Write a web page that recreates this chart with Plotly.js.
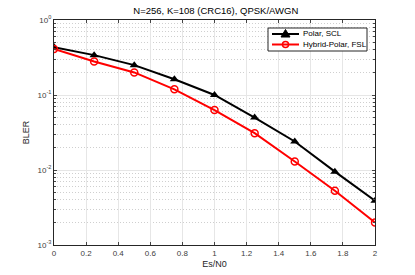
<!DOCTYPE html>
<html><head><meta charset="utf-8">
<script src="https://cdn.plot.ly/plotly-3.0.1.min.js"></script>
<style>html,body{margin:0;padding:0;background:#fff}#c{width:415px;height:275px}</style>
</head><body><div id="c"></div>
<script>
const esn0 = [0, 0.25, 0.5, 0.75, 1.0, 1.25, 1.5, 1.75, 2.0];
const blerPolarSCL = [0.435, 0.34, 0.25, 0.162, 0.1, 0.050, 0.024, 0.0095, 0.0039];
const blerHybridFSL = [0.41, 0.28, 0.20, 0.119, 0.063, 0.031, 0.013, 0.0053, 0.0020];
const seriesNames = ['Polar, SCL', 'Hybrid-Polar, FSL'];
const xTicks = [0, 0.2, 0.4, 0.6, 0.8, 1, 1.2, 1.4, 1.6, 1.8, 2];
const yTicks = [0.001, 0.01, 0.1, 1];
const yTickText = ['10<sup>-3</sup>', '10<sup>-2</sup>', '10<sup>-1</sup>', '10<sup>0</sup>'];

const minorY = [];
[0.001, 0.01, 0.1].forEach(d => { for (let k = 2; k <= 9; k++) minorY.push(d * k); });

const W = 415, H = 275, M = {l: 54, r: 40, t: 20, b: 30};
const PW = W - M.l - M.r, PH = H - M.t - M.b;
const px = v => (v - M.l) / PW;
const py = v => (H - M.b - v) / PH;

const font = {family: 'Liberation Sans, Arial, sans-serif', color: '#262626'};
const traces = [
  {x: esn0, y: blerPolarSCL, name: seriesNames[0], mode: 'lines+markers',
   line: {color: '#000', width: 2}, marker: {symbol: 'triangle-up', size: 8, color: '#000'}},
  {x: esn0, y: blerHybridFSL, name: seriesNames[1], mode: 'lines+markers',
   line: {color: '#ff0000', width: 2}, marker: {symbol: 'circle-open', size: 7, color: '#ff0000', line: {width: 1.5}}}
];

const lg = {x0: 268, x1: 367, y0: 28, y1: 51, rows: [34, 44.5], l0: 272, l1: 299, mx: 285.5, tx: 301};
const shapes = [
  {type: 'rect', xref: 'paper', yref: 'paper', x0: px(lg.x0), x1: px(lg.x1), y0: py(lg.y1), y1: py(lg.y0),
   fillcolor: '#fff', line: {color: '#262626', width: 1}, layer: 'above'},
  {type: 'line', xref: 'paper', yref: 'paper', x0: px(lg.l0), x1: px(lg.l1), y0: py(lg.rows[0]), y1: py(lg.rows[0]),
   line: {color: '#000', width: 2}, layer: 'above'},
  {type: 'path', xref: 'paper', yref: 'paper', layer: 'above', fillcolor: '#000', line: {color: '#000', width: 1},
   path: `M${px(lg.mx)},${py(lg.rows[0]-4.5)} L${px(lg.mx+4.5)},${py(lg.rows[0]+3)} L${px(lg.mx-4.5)},${py(lg.rows[0]+3)} Z`},
  {type: 'line', xref: 'paper', yref: 'paper', x0: px(lg.l0), x1: px(lg.l1), y0: py(lg.rows[1]), y1: py(lg.rows[1]),
   line: {color: '#ff0000', width: 2}, layer: 'above'},
  {type: 'circle', xref: 'paper', yref: 'paper', layer: 'above', fillcolor: 'rgba(0,0,0,0)', line: {color: '#ff0000', width: 1.5},
   x0: px(lg.mx-3), x1: px(lg.mx+3), y0: py(lg.rows[1]+3), y1: py(lg.rows[1]-3)}
];
const annotations = seriesNames.map((n, i) => ({
  text: n, xref: 'paper', yref: 'paper', x: px(lg.tx), y: py(lg.rows[i]), xanchor: 'left', yanchor: 'middle',
  showarrow: false, font: {family: font.family, size: 8, color: '#000'}
}));

const layout = {
  width: W, height: H, margin: M,
  paper_bgcolor: '#fff', plot_bgcolor: '#fff',
  font: Object.assign({size: 8}, font),
  title: {text: 'N=256, K=108 (CRC16), QPSK/AWGN', x: 0.52, xanchor: 'center', y: 0.975, yanchor: 'top',
          font: Object.assign({}, font, {size: 9.5, color: '#000'})},
  xaxis: {range: [0, 2], tickvals: xTicks, ticktext: xTicks.map(String),
          showline: true, linecolor: '#262626', linewidth: 1, mirror: 'ticks', ticks: 'inside', ticklen: 3,
          showgrid: true, gridcolor: '#e6e6e6', gridwidth: 1, zeroline: false,
          tickfont: {size: 8, color: '#404040'},
          title: {text: 'Es/N0', font: {size: 9, color: '#262626'}, standoff: 4}},
  yaxis: {type: 'log', range: [-3, 0], tickvals: yTicks, ticktext: yTickText,
          showline: true, linecolor: '#262626', linewidth: 1, mirror: 'ticks', ticks: 'inside', ticklen: 3,
          showgrid: true, gridcolor: '#e6e6e6', gridwidth: 1, zeroline: false,
          tickfont: {size: 8, color: '#404040'},
          minor: {tickmode: 'array', tickvals: minorY, showgrid: true, gridcolor: '#cfcfcf', griddash: '1px,2px',
                  gridwidth: 1, ticks: 'inside', ticklen: 2},
          title: {text: 'BLER', font: {size: 9, color: '#262626'}, standoff: 6}},
  showlegend: false,
  shapes: shapes,
  annotations: annotations
};
Plotly.newPlot('c', traces, layout, {staticPlot: true, displayModeBar: false});
</script></body></html>
